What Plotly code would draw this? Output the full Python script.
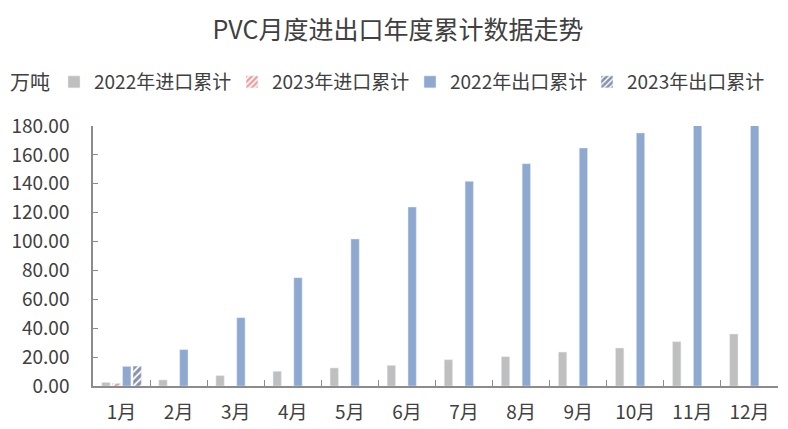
import plotly.graph_objects as go

months = ["1月", "2月", "3月", "4月", "5月", "6月", "7月", "8月", "9月", "10月", "11月", "12月"]
import_2022 = [2.5, 4.2, 7.2, 10.2, 12.5, 14.3, 18.2, 20.3, 23.5, 26.3, 30.7, 36.0]
import_2023 = [1.8, None, None, None, None, None, None, None, None, None, None, None]
export_2022 = [13.6, 25.2, 47.3, 75.0, 101.8, 123.9, 141.7, 153.9, 164.8, 175.2, 186.0, 197.0]
export_2023 = [13.8, None, None, None, None, None, None, None, None, None, None, None]
y_ticks = [0, 20, 40, 60, 80, 100, 120, 140, 160, 180]

font_name = "Noto Sans CJK SC, Microsoft YaHei, sans-serif"
text_color = "#404040"
axis_color = "#8c8c8c"

# page has an 8px body margin, so the figure is a bit smaller than the window
W, H = 780, 421
L, T, PW, PH = 85, 118, 685, 260

fig = go.Figure()
fig.add_trace(go.Bar(name="2022年进口累计", x=months, y=import_2022, legend="legend",
                     marker=dict(color="#BFBFBF")))
fig.add_trace(go.Bar(name="2023年进口累计", x=months, y=import_2023, legend="legend2",
                     marker=dict(color="white",
                                 pattern=dict(shape="/", fgcolor="#E03C3C", bgcolor="white",
                                              size=5, solidity=0.6))))
fig.add_trace(go.Bar(name="2022年出口累计", x=months, y=export_2022, legend="legend3",
                     marker=dict(color="#8EA8CF")))
fig.add_trace(go.Bar(name="2023年出口累计", x=months, y=export_2023, legend="legend4",
                     marker=dict(color="white",
                                 pattern=dict(shape="/", fgcolor="#14264F", bgcolor="white",
                                              size=5, solidity=0.65))))

# one legend per series so the entries sit where the reference puts them
legend_left = [46, 224, 402, 579]
legends = {}
for i, px in enumerate(legend_left):
    key = "legend" if i == 0 else "legend%d" % (i + 1)
    legends[key] = dict(orientation="h", x=(px - L) / PW, xanchor="left",
                        y=1 - 74 / H, yref="container", yanchor="middle",
                        font=dict(size=19, color=text_color), itemwidth=30,
                        bgcolor="rgba(0,0,0,0)")

fig.update_layout(
    width=W, height=H,
    margin=dict(l=L, r=W - L - PW, t=T, b=H - T - PH, autoexpand=False),
    paper_bgcolor="white", plot_bgcolor="white",
    font=dict(family=font_name, color=text_color, size=19),
    title=dict(text="PVC月度进出口年度累计数据走势", x=0.5, xanchor="center",
               y=1 - 22 / H, yanchor="middle", font=dict(size=25, color=text_color)),
    barmode="group", bargap=0.27, bargroupgap=0.2,
    showlegend=True,
    annotations=[dict(text="万吨", x=-L / PW, xanchor="left", y=1 + 44 / PH,
                      xref="paper", yref="paper", yanchor="middle",
                      showarrow=False, font=dict(size=20, color=text_color))],
    **legends,
)

fig.update_xaxes(showline=True, linecolor=axis_color, linewidth=1.5,
                 ticks="inside", tickson="boundaries", ticklen=6, tickcolor=axis_color,
                 showgrid=False, ticklabelstandoff=8, tickfont=dict(size=19, color=text_color))
fig.update_yaxes(range=[0, 180], tickvals=y_ticks, tickformat=".2f",
                 showline=True, linecolor=axis_color, linewidth=1.5,
                 ticks="inside", ticklen=5, tickcolor=axis_color,
                 showgrid=False, zeroline=False, ticklabelstandoff=18,
                 tickfont=dict(size=19, color=text_color))

fig.write_html("out.html")
